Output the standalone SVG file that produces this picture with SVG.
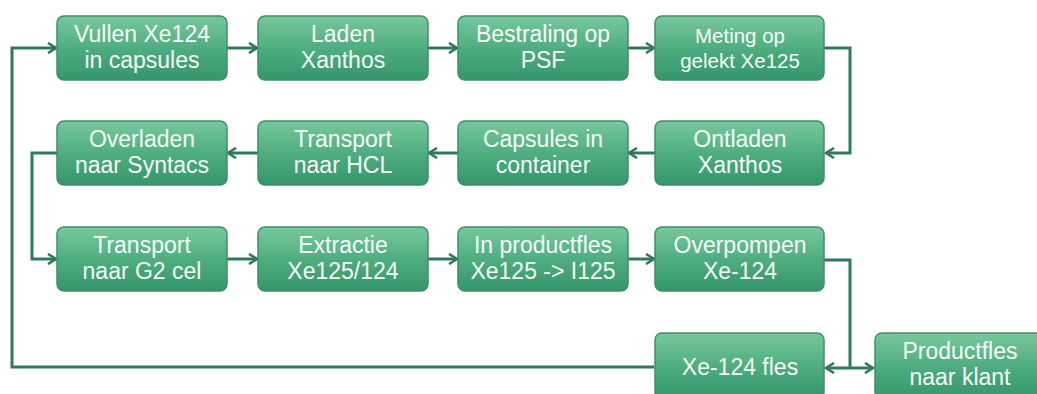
<svg xmlns="http://www.w3.org/2000/svg" width="1037" height="394" viewBox="0 0 1037 394">
<defs>
<linearGradient id="g" x1="0" y1="0" x2="0" y2="1">
<stop offset="0" stop-color="#78c89c"/>
<stop offset="0.5" stop-color="#4fae80"/>
<stop offset="1" stop-color="#34966a"/>
</linearGradient>
<marker id="ah" viewBox="0 0 12 12" refX="10" refY="6" markerWidth="12" markerHeight="12" markerUnits="userSpaceOnUse" orient="auto-start-reverse">
<path d="M2,1 L10,6 L2,11" fill="none" stroke="#2f7a5c" stroke-width="2.6" stroke-linejoin="miter"/>
</marker>
</defs>
<style>
.box{fill:url(#g);stroke:#3f8f6a;stroke-width:1.5}
.t{font-family:"Liberation Sans",Arial,sans-serif;font-size:23px;fill:#f7fcf8;text-anchor:middle}
.s{font-size:20.5px}
.c{fill:none;stroke:#2f7a5c;stroke-width:3}
</style>
<rect width="1037" height="394" fill="#ffffff"/>
<g id="connectors">
<line class="c" x1="227" y1="48" x2="257" y2="48" marker-end="url(#ah)"/>
<line class="c" x1="428" y1="48" x2="457" y2="48" marker-end="url(#ah)"/>
<line class="c" x1="628" y1="48" x2="654" y2="48" marker-end="url(#ah)"/>
<polyline class="c" points="824,48 850,48 850,153 826,153" marker-end="url(#ah)"/>
<line class="c" x1="655" y1="153" x2="629" y2="153" marker-end="url(#ah)"/>
<line class="c" x1="458" y1="153" x2="429" y2="153" marker-end="url(#ah)"/>
<line class="c" x1="258" y1="153" x2="228" y2="153" marker-end="url(#ah)"/>
<polyline class="c" points="57,153 32,153 32,259 56,259" marker-end="url(#ah)"/>
<line class="c" x1="227" y1="259" x2="257" y2="259" marker-end="url(#ah)"/>
<line class="c" x1="428" y1="259" x2="457" y2="259" marker-end="url(#ah)"/>
<line class="c" x1="628" y1="259" x2="654" y2="259" marker-end="url(#ah)"/>
<polyline class="c" points="824,260 850,260 850,368"/>
<line class="c" x1="826" y1="368" x2="873" y2="368" marker-start="url(#ah)" marker-end="url(#ah)"/>
<polyline class="c" points="654,367 12,367 12,48 56,48" marker-end="url(#ah)"/>
</g>
<g id="n1"><rect class="box" x="57" y="16" width="170" height="64" rx="7"/><text class="t" x="142" y="42">Vullen Xe124</text><text class="t" x="142" y="68">in capsules</text></g>
<g id="n2"><rect class="box" x="258" y="16" width="170" height="64" rx="7"/><text class="t" x="343" y="42">Laden</text><text class="t" x="343" y="68">Xanthos</text></g>
<g id="n3"><rect class="box" x="458" y="16" width="170" height="64" rx="7"/><text class="t" x="543" y="42">Bestraling op</text><text class="t" x="543" y="68">PSF</text></g>
<g id="n4"><rect class="box" x="655" y="16" width="169" height="64" rx="7"/><text class="t s" x="740" y="43">Meting op</text><text class="t s" x="740" y="68">gelekt Xe125</text></g>
<g id="n5"><rect class="box" x="655" y="121" width="169" height="64" rx="7"/><text class="t" x="740" y="147">Ontladen</text><text class="t" x="740" y="173">Xanthos</text></g>
<g id="n6"><rect class="box" x="458" y="121" width="170" height="64" rx="7"/><text class="t" x="543" y="147">Capsules in</text><text class="t" x="543" y="173">container</text></g>
<g id="n7"><rect class="box" x="258" y="121" width="170" height="64" rx="7"/><text class="t" x="343" y="147">Transport</text><text class="t" x="343" y="173">naar HCL</text></g>
<g id="n8"><rect class="box" x="57" y="121" width="170" height="64" rx="7"/><text class="t" x="142" y="147">Overladen</text><text class="t" x="142" y="173">naar Syntacs</text></g>
<g id="n9"><rect class="box" x="57" y="227" width="170" height="64" rx="7"/><text class="t" x="142" y="253">Transport</text><text class="t" x="142" y="279">naar G2 cel</text></g>
<g id="n10"><rect class="box" x="258" y="227" width="170" height="64" rx="7"/><text class="t" x="343" y="253">Extractie</text><text class="t" x="343" y="279">Xe125/124</text></g>
<g id="n11"><rect class="box" x="458" y="227" width="170" height="64" rx="7"/><text class="t" x="543" y="253">In productfles</text><text class="t" x="543" y="279">Xe125 -&gt; I125</text></g>
<g id="n12"><rect class="box" x="655" y="227" width="169" height="64" rx="7"/><text class="t" x="740" y="253">Overpompen</text><text class="t" x="740" y="279">Xe-124</text></g>
<g id="n13"><rect class="box" x="655" y="333" width="169" height="66" rx="7"/><text class="t" x="740" y="375">Xe-124 fles</text></g>
<g id="n14"><rect class="box" x="875" y="333" width="170" height="66" rx="7"/><text class="t" x="960" y="359">Productfles</text><text class="t" x="960" y="385">naar klant</text></g>
</svg>
